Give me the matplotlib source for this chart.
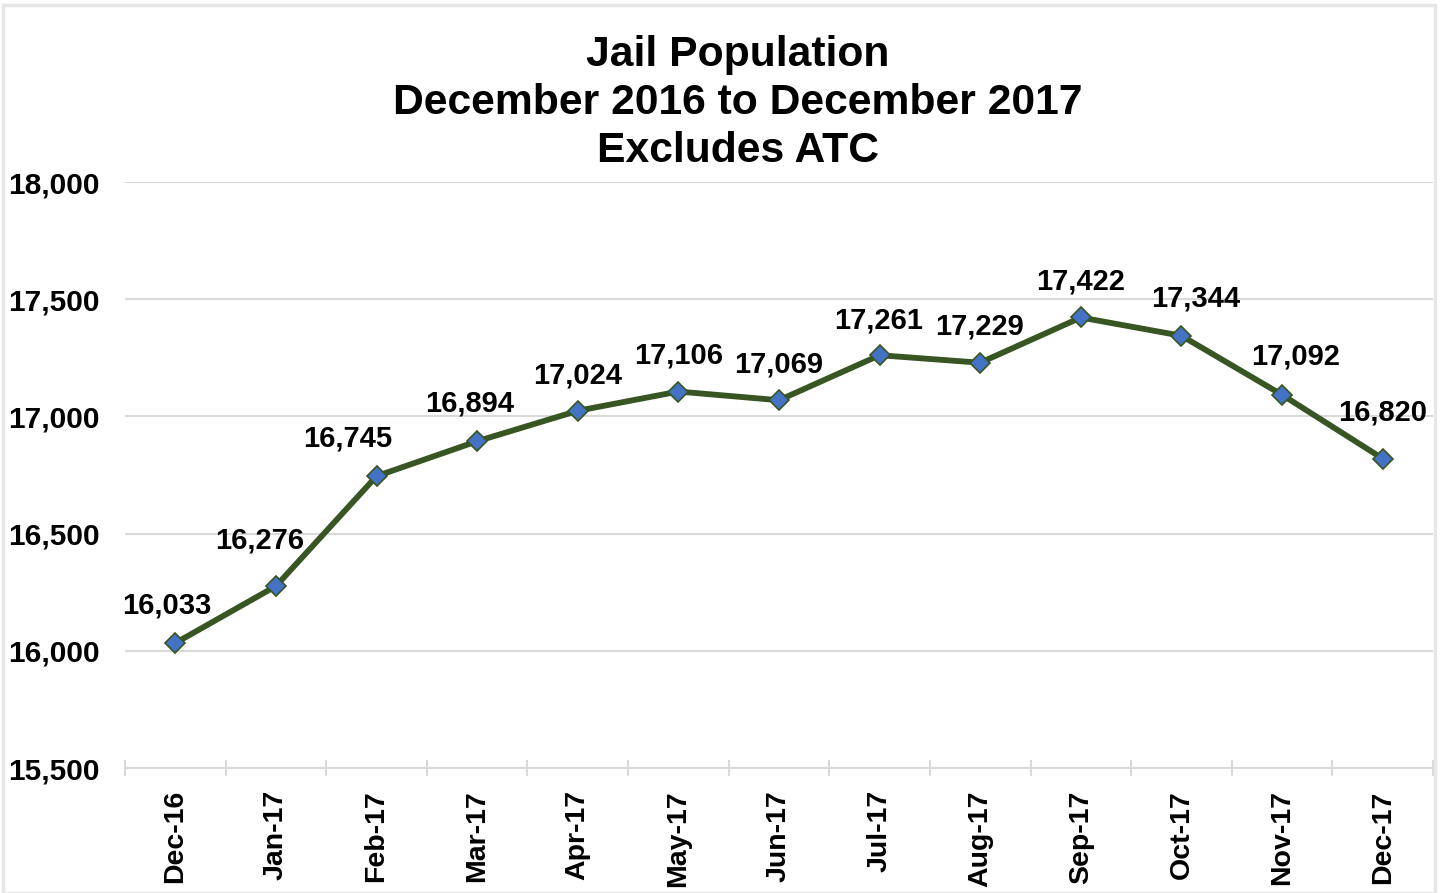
import numpy as np
import matplotlib
matplotlib.use("Agg")
import matplotlib.pyplot as plt
from matplotlib.patches import Rectangle

plt.rcParams['font.family'] = ['Liberation Sans', 'DejaVu Sans']
plt.rcParams['font.weight'] = 'bold'

### data
months = ["Dec-16", "Jan-17", "Feb-17", "Mar-17", "Apr-17", "May-17", "Jun-17",
          "Jul-17", "Aug-17", "Sep-17", "Oct-17", "Nov-17", "Dec-17"]
population = [16033, 16276, 16745, 16894, 17024, 17106, 17069,
              17261, 17229, 17422, 17344, 17092, 16820]
y_ticks = [15500, 16000, 16500, 17000, 17500, 18000]

# label nudges in pixels (Excel labels were dragged around by hand)
label_dx = [-9, -16, -29, -8, 0, 0, 0, -1, -1, 0, 14, 13, 0]
label_dy = [38, 46, 38, 38, 35, 36, 36, 35, 36, 36, 37, 38, 46]

fig = plt.figure(figsize=(14.42, 8.93), dpi=100)
ax = fig.add_axes([125/1442, 1 - 768/893, (1433 - 125)/1442, (768 - 182)/893])

x = np.arange(len(months))
ax.plot(x, population, color="#375623", linewidth=4.2, zorder=3,
        marker="D", markersize=10, markerfacecolor="#4472C4",
        markeredgecolor="#375623", markeredgewidth=1.2)

for i, v in enumerate(population):
    ax.annotate(f"{v:,}", (x[i], v), xytext=(label_dx[i], label_dy[i]),
                textcoords="offset pixels", ha="center", va="center",
                fontsize=21, fontweight="bold", color="black")

###axes
ax.set_xlim(-0.5, len(months) - 0.5)
ax.set_ylim(15500, 18000)
ax.set_yticks(y_ticks)
ax.set_yticklabels([f"{t:,}" for t in y_ticks])
ax.set_xticks(x)
ax.set_xticklabels(months, rotation=90)
ax.set_xticks(np.arange(-0.5, len(months)), minor=True)

ax.tick_params(axis="x", which="major", length=0, pad=16, labelsize=20.5)
ax.tick_params(axis="x", which="minor", length=12, direction="inout",
               color="#D9D9D9", width=1.5)
ax.tick_params(axis="y", length=0, pad=18, labelsize=21.5)
for lab in ax.get_xticklabels() + ax.get_yticklabels():
    lab.set_fontweight("bold")

ax.grid(axis="y", color="#D9D9D9", linewidth=1.5)
ax.set_axisbelow(True)
for side in ["left", "right", "top"]:
    ax.spines[side].set_visible(False)
ax.spines["bottom"].set_color("#D9D9D9")
ax.spines["bottom"].set_linewidth(1.5)

###title
fig.text(738/1442, 1 - 103/893,
         "Jail Population\nDecember 2016 to December 2017\nExcludes ATC",
         ha="center", va="center", fontsize=30.7, fontweight="bold",
         linespacing=1.26)

###chart border
fig.patches.append(Rectangle((3/1442, 0), 1432/1442, 1 - 5/893,
                             transform=fig.transFigure, fill=False,
                             edgecolor="#E6E6E6", linewidth=2.5))

fig.savefig("out.png", dpi=100)
